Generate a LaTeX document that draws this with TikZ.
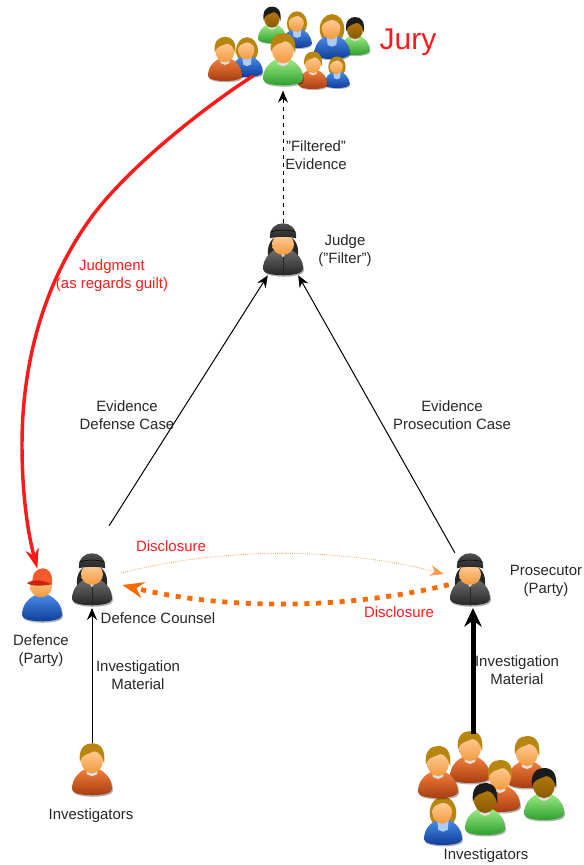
\documentclass[tikz,border=0pt]{standalone}
\usepackage{fontspec}
\setmainfont{Liberation Sans}[Ligatures=ResetAll]
\usetikzlibrary{arrows.meta, positioning}

\definecolor{orangetop}{HTML}{F4803C}
\definecolor{orangebot}{HTML}{A83C10}
\definecolor{greentop}{HTML}{A0EC88}
\definecolor{greenbot}{HTML}{2CA02C}
\definecolor{bluetop}{HTML}{4A8CE8}
\definecolor{bluebot}{HTML}{0F3E9A}
\definecolor{coattop}{HTML}{707070}
\definecolor{coatbot}{HTML}{262626}
\definecolor{skintop}{HTML}{FFD0A0}
\definecolor{skinbot}{HTML}{F29A3C}
\definecolor{darktop}{HTML}{B87C10}
\definecolor{darkbot}{HTML}{8A5A00}
\definecolor{hair}{HTML}{B8860F}
\definecolor{blackhair}{HTML}{1C1C1C}
\definecolor{lawred}{HTML}{FF1A1A}
\definecolor{leak}{HTML}{FF6A00}

\newcommand{\bodypath}{(-20,-6) .. controls (-20,-18) and (-12,-24) .. (-5,-27) -- (5,-27) .. controls (12,-24) and (20,-18) .. (20,-6) .. controls (20,-2) and (10,0) .. (0,0) .. controls (-10,0) and (-20,-2) .. (-20,-6) -- cycle}

\tikzset{
	icon/.style={minimum width=31.5pt, minimum height=39pt, inner sep=0pt},
	caption/.style={font=\fontsize{11.2}{13.5}\selectfont, align=center, text=black!85, inner sep=0pt},
	redcaption/.style={caption, text=lawred},
	headtip/.style={-{Stealth[length=9pt, width=7.5pt]}},
	pics/manicon/.style n args={3}{code={
		\fill[black, opacity=.3] [shift={(1,1.5)}] \bodypath;
		\shade[top color=#1top, bottom color=#1bot] \bodypath;
		\fill[black!12] (-6,-27) -- (6,-27) -- (5,-21) -- (0,-19) -- (-5,-21) -- cycle;
		\shade[top color=#3top, bottom color=#3bot] (0,-35) ellipse (11 and 13);
		\fill[#2] (-12,-33) .. controls (-14,-47) and (-7,-52) .. (0,-52) .. controls (8,-52) and (14,-47) .. (12,-31) .. controls (11,-39) and (7,-44) .. (2,-44) .. controls (-3,-41) and (-10,-42) .. (-12,-33) -- cycle;
	}},
	pics/womanicon/.style={code={
		\fill[black, opacity=.3] [shift={(1,1.5)}] \bodypath;
		\fill[hair] (0,-34) ellipse (14 and 17);
		\shade[top color=bluetop, bottom color=bluebot] \bodypath;
		\fill[bluetop!45!white] (-6,-27) -- (6,-27) -- (5,-16) -- (0,-14) -- (-5,-16) -- cycle;
		\shade[top color=skintop, bottom color=skinbot] (-1,-35) ellipse (10.5 and 12.5);
		\fill[hair] (-12,-36) .. controls (-11,-46) and (-4,-50) .. (1,-50) .. controls (8,-50) and (12,-44) .. (11,-36) .. controls (8,-42) and (2,-46) .. (-2,-44) .. controls (-6,-43) and (-10,-41) .. (-12,-36) -- cycle;
	}},
	pics/agenticon/.style={code={
		\fill[black, opacity=.3] [shift={(1,1.5)}] \bodypath;
		\fill[coatbot] (-15,-20) .. controls (-16,-30) and (-12,-40) .. (0,-40) .. controls (12,-40) and (16,-30) .. (15,-20) -- cycle;
		\shade[top color=coattop, bottom color=coatbot] \bodypath;
		\fill[black!15] (-5,-25) -- (5,-25) -- (0,-18) -- cycle;
		\draw[coatbot, line width=.5pt] (0,-18) -- (0,-1);
		\shade[top color=skintop, bottom color=skinbot] (0,-31) ellipse (11 and 10.5);
		\shade[top color=coattop!70!black, bottom color=coatbot] (-13,-37) .. controls (-14,-47) and (-7,-52) .. (0,-52) .. controls (7,-52) and (14,-47) .. (13,-37) .. controls (6,-39) and (-6,-39) .. (-13,-37) -- cycle;
		\draw[black, line width=.4pt] (-13,-43) .. controls (-5,-46) and (5,-46) .. (13,-43);
	}},
	pics/capicon/.style={code={
		\fill[black, opacity=.3] [shift={(1,1.5)}] \bodypath;
		\shade[top color=bluetop, bottom color=bluebot] \bodypath;
		\shade[top color=skintop, bottom color=skinbot] (-1,-35) ellipse (11 and 11);
		\fill[orangetop!70!red] (-9,-38) .. controls (-11,-48) and (-5,-53) .. (1,-53) .. controls (7,-53) and (11,-47) .. (10,-37) .. controls (4,-40) and (-3,-40) .. (-9,-38) -- cycle;
		\fill[orangebot!60!red] (-15,-38) .. controls (-10,-42) and (0,-42) .. (10,-37) .. controls (4,-36) and (-8,-34) .. (-15,-38) -- cycle;
	}},
}

\begin{document}
\begin{tikzpicture}[x=0.75pt, y=-0.75pt, >=stealth]
	\useasboundingbox (0,0) rectangle (584,865);

	\node[icon] (jury) at (283,59) {};
	\node[icon] (judge) at (283,249) {};
	\node[icon] (defence) at (42,595) {};
	\node[icon] (counsel) at (92,579) {};
	\node[icon] (prosecutor) at (470,579) {};
	\node[icon] (investigator) at (92,769) {};
	\node[icon, minimum width=60pt, minimum height=20pt] (team) at (473,740) {};
	\coordinate (juryout) at (253,76);

	\begin{scope}
		\pic[scale=.7] at (272,43) {manicon={green}{blackhair}{dark}};
		\pic[scale=.72] at (297,48) {womanicon};
		\pic[scale=.73] at (355,55) {manicon={green}{blackhair}{dark}};
		\pic[scale=.88] at (332,59) {womanicon};
		\pic[scale=.78] at (247,77) {womanicon};
		\pic[scale=.85] at (225,81) {manicon={orange}{hair}{skin}};
		\pic[scale=.62] at (337,88) {womanicon};
		\pic[scale=.72] at (313,89) {manicon={orange}{hair}{skin}};
		\pic at (jury.south) {manicon={green}{hair}{skin}};
	\end{scope}

	\pic at (judge.south) {agenticon};
	\pic at (counsel.south) {agenticon};
	\pic at (prosecutor.south) {agenticon};
	\pic at (defence.south) {capicon};
	\pic at (investigator.south) {manicon={orange}{hair}{skin}};

	\begin{scope}
		\pic at (527,788) {manicon={orange}{hair}{skin}};
		\pic at (470,783) {manicon={orange}{hair}{skin}};
		\pic at (500,812) {manicon={orange}{hair}{skin}};
		\pic[scale=.95] at (443,845) {womanicon};
		\pic at (438,798) {manicon={orange}{hair}{skin}};
		\pic at (544,820) {manicon={green}{blackhair}{dark}};
		\pic at (485,835) {manicon={green}{blackhair}{dark}};
	\end{scope}

	\draw[headtip, dashed, line width=.75pt, shorten >=4pt] (judge) -- (jury);
	\draw[headtip, line width=.75pt, shorten <=24pt] (counsel.north) -- (judge.240);
	\draw[headtip, line width=.75pt] (prosecutor.120) -- (judge.300);
	\draw[headtip, line width=.75pt, shorten >=2pt] (investigator) -- (counsel);
	\draw[-{Stealth[length=14pt, width=13pt]}, line width=3.75pt, shorten <=-6pt, shorten >=2pt] (team) -- (team |- prosecutor.south);
	\draw[-{Stealth[length=15pt, width=10pt]}, lawred, line width=2.6pt] (juryout) .. controls (215,100) and (135,160) .. (93,215) .. controls (45,280) and (22,360) .. (22,445) .. controls (22,490) and (27,530) .. (defence.100);
	\draw[-{Stealth[length=10pt, width=8pt]}, leak!70, densely dotted, line width=.6pt, shorten <=6pt, shorten >=4pt] (counsel.10) .. controls (220,547) and (340,547) .. (prosecutor.170);
	\draw[-{Stealth[length=16pt, width=12pt]}, leak, line width=3.6pt, dash pattern=on 3.8pt off 5pt, shorten >=7pt] (prosecutor.195) .. controls (340,611) and (220,609) .. (counsel.-10);

	\node[font=\fontsize{22.5}{26}\selectfont, text=lawred, inner sep=0pt] (jurylabel) at (408,42) {Jury};
	\node[caption] (filteredlabel) at (316,155) {"Filtered"\\Evidence};
	\node[caption] (judgelabel) at (345,251) {Judge\\("Filter")};
	\node[redcaption] (judgmentlabel) at (112,276) {Judgment\\(as regards guilt)};
	\node[caption] (defenselabel) at (127,415) {Evidence\\Defense Case};
	\node[caption] (prosecutionlabel) at (452,415) {Evidence\\Prosecution Case};
	\node[redcaption] (disclosureleft) at (171,546) {Disclosure};
	\node[redcaption] (disclosureright) at (399,612) {Disclosure};
	\node[caption] (prosecutorlabel) at (546,581) {Prosecutor\\(Party)};
	\node[caption] (counsellabel) at (158,618) {Defence Counsel};
	\node[caption] (defencelabel) at (41,651) {Defence\\(Party)};
	\node[caption] (materialleft) at (138,675) {Investigation\\Material};
	\node[caption] (materialright) at (517,670) {Investigation\\Material};
	\node[caption] (investigatorleft) at (91,816) {Investigators};
	\node[caption] (investigatorright) at (486,856) {Investigators};
\end{tikzpicture}
\end{document}
